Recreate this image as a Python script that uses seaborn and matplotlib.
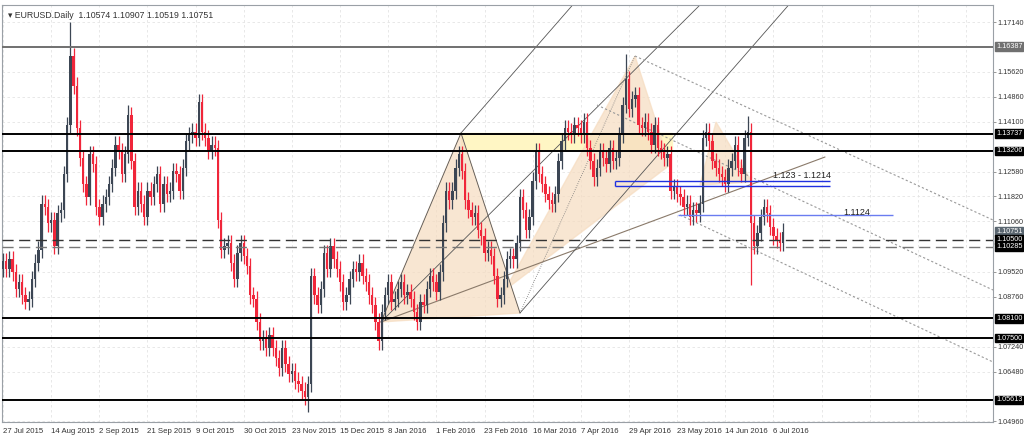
import numpy as np
import matplotlib
matplotlib.use("Agg")
import matplotlib.pyplot as plt
import seaborn as sns

# daily closes, 27 Jul 2015 - 11 Jul 2016
closes = [
    1.0985, 1.0960, 1.0990, 1.0950, 1.0900, 1.0920, 1.0880, 1.0860, 1.0870, 1.0930, 1.0980, 1.1020, 1.1160, 1.1150, 1.1100,
    1.1110, 1.1030, 1.1130, 1.1140, 1.1250, 1.1400, 1.1610, 1.1520, 1.1390, 1.1300, 1.1220, 1.1180, 1.1310, 1.1280, 1.1150,
    1.1120, 1.1160, 1.1180, 1.1220, 1.1270, 1.1340, 1.1320, 1.1250, 1.1310, 1.1430, 1.1290, 1.1150, 1.1200, 1.1160, 1.1120,
    1.1200, 1.1180, 1.1220, 1.1250, 1.1160, 1.1220, 1.1190, 1.1200, 1.1260, 1.1250, 1.1200, 1.1270, 1.1350, 1.1370, 1.1380,
    1.1360, 1.1470, 1.1380, 1.1360, 1.1320, 1.1340, 1.1330, 1.1110, 1.1020, 1.1030, 1.1040, 1.0980, 1.0930, 1.1010, 1.1040,
    1.1000, 1.0970, 1.0880, 1.0870, 1.0800, 1.0740, 1.0750, 1.0720, 1.0760, 1.0720, 1.0690, 1.0660, 1.0720, 1.0670, 1.0640,
    1.0650, 1.0620, 1.0610, 1.0590, 1.0570, 1.0610, 1.0940, 1.0880, 1.0850, 1.0900, 1.1010, 1.0960, 1.1030, 1.0990, 1.0960,
    1.0920, 1.0860, 1.0880, 1.0930, 1.0960, 1.0950, 1.0980, 1.0940, 1.0920, 1.0880, 1.0850, 1.0800, 1.0740, 1.0830, 1.0880,
    1.0920, 1.0860, 1.0870, 1.0900, 1.0920, 1.0880, 1.0890, 1.0870, 1.0830, 1.0800, 1.0860, 1.0850, 1.0900, 1.0940, 1.0920,
    1.0890, 1.0950, 1.1100, 1.1200, 1.1170, 1.1200, 1.1270, 1.1310, 1.1260, 1.1170, 1.1140, 1.1120, 1.1130, 1.1080, 1.1060,
    1.1010, 1.1020, 1.1000, 1.0940, 1.0870, 1.0880, 1.0930, 1.0990, 1.1000, 1.0990, 1.1040, 1.1180, 1.1140, 1.1080, 1.1120,
    1.1230, 1.1320, 1.1250, 1.1220, 1.1190, 1.1170, 1.1160, 1.1190, 1.1290, 1.1350, 1.1390, 1.1380, 1.1370, 1.1400, 1.1390,
    1.1370, 1.1410, 1.1330, 1.1290, 1.1240, 1.1270, 1.1320, 1.1300, 1.1280, 1.1330, 1.1290, 1.1300, 1.1370, 1.1460, 1.1540,
    1.1450, 1.1480, 1.1490, 1.1400, 1.1390, 1.1410, 1.1380, 1.1340, 1.1400, 1.1330, 1.1320, 1.1300, 1.1310, 1.1200, 1.1210,
    1.1190, 1.1180, 1.1150, 1.1160, 1.1120, 1.1140, 1.1130, 1.1160, 1.1360, 1.1380, 1.1350, 1.1290, 1.1270, 1.1250, 1.1240,
    1.1220, 1.1270, 1.1290, 1.1340, 1.1270, 1.1250, 1.1360, 1.1380, 1.1100, 1.1030, 1.1070, 1.1120, 1.1150, 1.1130, 1.1090,
    1.1060, 1.1050, 1.1040, 1.1075,
]
first_open = 1.0960
spike_high = {21: 1.1714, 194: 1.1616, 232: 1.1428, 39: 1.1460, 61: 1.1495}
spike_low = {95: 1.0524, 233: 1.0912, 7: 1.0840}

date_labels = ["27 Jul 2015", "14 Aug 2015", "2 Sep 2015", "21 Sep 2015", "9 Oct 2015",
               "30 Oct 2015", "23 Nov 2015", "15 Dec 2015", "8 Jan 2016", "1 Feb 2016",
               "23 Feb 2016", "16 Mar 2016", "7 Apr 2016", "29 Apr 2016", "23 May 2016",
               "14 Jun 2016", "6 Jul 2016"]
label_step = 15

price_ticks = [1.17140, 1.15620, 1.14860, 1.14100, 1.12580, 1.11820, 1.11060,
               1.09520, 1.08760, 1.07240, 1.06480, 1.04960]
black_levels = [1.13737, 1.13206, 1.08100, 1.07500, 1.05613]
gray_level = 1.16387
dashed_levels = [1.10500, 1.10285]
last_price = 1.10751

sns.set_theme(style="white")
plt.rcParams['font.family'] = ['Liberation Sans', 'DejaVu Sans']

fig = plt.figure(figsize=(10.24, 4.38), dpi=100)
ax = fig.add_axes([2 / 1024, 16 / 438, 991 / 1024, 417 / 438])

ppb = 3.21
xmin, xmax = -1 / ppb, 990 / ppb
ymax = 1.1714 + 17 * 0.000305
ymin = 1.1714 - 400 * 0.000305
ax.set_xlim(xmin, xmax)
ax.set_ylim(ymin, ymax)


def P(px, py):
    # pixel of the reference -> data coords
    return (px - 3) / ppb, 1.1714 - (py - 22) * 0.000305


# grid
for i in range(0, 330, label_step):
    ax.axvline(i, color="#e4e4e4", lw=0.6, ls=(0, (3, 3)), zorder=0)
for t in price_ticks:
    ax.axhline(t, color="#e4e4e4", lw=0.6, ls=(0, (3, 3)), zorder=0)

# pattern fills
def poly(pts, **kw):
    d = [P(*p) for p in pts]
    ax.fill([a for a, b in d], [b for a, b in d], **kw)

poly([(461, 133), (672, 133), (672, 150), (461, 150)], color="#fff6c4", zorder=1)
poly([(381, 322), (461, 133), (520, 313)], color="#f6dcc0", alpha=0.7, zorder=1)
poly([(505, 290), (635, 56), (670, 165)], color="#f6dcc0", alpha=0.7, zorder=1)
poly([(700, 185), (716, 122), (752, 182)], color="#f6dcc0", alpha=0.7, zorder=1)

def seg(a, b, **kw):
    (x1, y1), (x2, y2) = P(*a), P(*b)
    ax.plot([x1, x2], [y1, y2], **kw)

thin = dict(color="#555555", lw=0.6, zorder=2)
seg((381, 322), (461, 133), **thin)
seg((461, 133), (520, 313), **thin)
seg((520, 313), (635, 56), color="#777777", lw=0.6, ls=":", zorder=2)
seg((381, 322), (825, 157), color="#8a7a6a", lw=0.8, zorder=2)
seg((461, 133), (577, 0), **thin)
seg((381, 322), (705, 0), **thin)
seg((520, 313), (793, 0), **thin)
dot = dict(color="#999999", lw=0.8, ls=(0, (2, 2)), zorder=2)
seg((635, 56), (993, 220), **dot)
seg((597, 105), (993, 290), **dot)
seg((680, 215), (993, 362), **dot)

# candles
o = [first_open] + closes[:-1]
for i, (op, cl) in enumerate(zip(o, closes)):
    up = cl >= op
    col = "#3c4654" if up else "#f0263a"
    hi = spike_high.get(i, max(op, cl) + 0.0025)
    lo = spike_low.get(i, min(op, cl) - 0.0025)
    ax.vlines(i, lo, hi, color=col, lw=0.9, zorder=3)
    h = max(abs(cl - op), 0.0004)
    ax.bar(i, h, bottom=min(op, cl), width=0.75, color=col, zorder=3, linewidth=0)

# levels
for lv in black_levels:
    ax.axhline(lv, color="black", lw=1.4, zorder=4)
ax.axhline(gray_level, color="#707070", lw=1.4, zorder=4)
ax.axhline(dashed_levels[0], color="#333333", lw=1.0, ls=(0, (8, 4)), zorder=4)
ax.axhline(dashed_levels[1], color="#777777", lw=1.0, ls=(0, (8, 4)), zorder=4)

# blue zones
x1, _ = P(615, 0)
x2, _ = P(830, 0)
ax.hlines([1.1230, 1.1214], x1, x2, color="#2030e0", lw=1.0, zorder=5)
ax.vlines(x1, 1.1214, 1.1230, color="#2030e0", lw=1.0, zorder=5)
x3, _ = P(678, 0)
x4, _ = P(893, 0)
ax.hlines(1.1124, x3, x4, color="#6a7cf0", lw=1.0, zorder=5)
ax.text(*P(773, 178), "1.123 - 1.1214", fontsize=6.5, color="#222222", zorder=6)
ax.text(*P(843, 215), "1.1124", fontsize=6.5, color="#222222", zorder=6)

# axes styling
fs = 5.6
rfs = 5.2
ax.yaxis.tick_right()
ax.set_yticks(price_ticks)
ax.set_yticklabels([f"{t:.5f}" for t in price_ticks], fontsize=rfs, color="#333333")
ax.set_xticks([i * label_step for i in range(len(date_labels))])
ax.set_xticklabels(date_labels, fontsize=fs, color="#333333", ha="left")
ax.tick_params(axis="both", length=3, width=0.6, color="#888888", pad=1)
ax.tick_params(axis="y", length=2, pad=1)
for s in ax.spines.values():
    s.set_color("#9aa0a6")
    s.set_linewidth(0.8)

# price boxes on right axis
def box(lv, fc):
    ax.text(1.003, lv, f"{lv:.5f}", transform=ax.get_yaxis_transform(), fontsize=rfs,
            color="white", va="center", ha="left",
            bbox=dict(boxstyle="square,pad=0.1", fc=fc, ec=fc), zorder=10, clip_on=False)

for lv in black_levels:
    box(lv, "black")
box(gray_level, "#707070")
box(last_price, "#5a6670")
box(dashed_levels[0], "black")
box(dashed_levels[1], "black")

ax.text(0.006, 0.985, "\u25be EURUSD.Daily  1.10574 1.10907 1.10519 1.10751",
        transform=ax.transAxes, fontsize=6.3, color="#333333", va="top", zorder=10)

fig.savefig("out.png", dpi=100)
